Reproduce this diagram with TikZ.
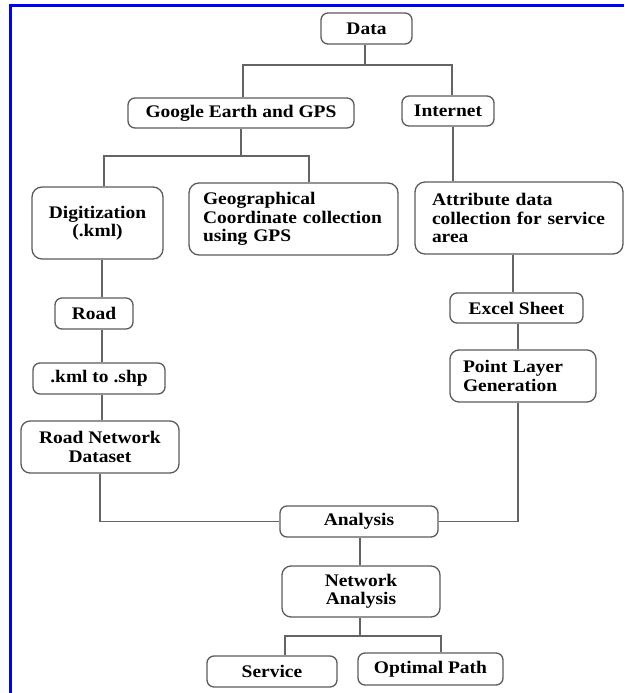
\documentclass[tikz,border=0pt]{standalone}
\usepackage{fontspec}
\setmainfont{Liberation Serif}[FakeStretch=1.1]
\definecolor{boxgray}{RGB}{90,90,90}
\definecolor{linegray}{RGB}{100,100,100}
\begin{document}
\begin{tikzpicture}[x=1pt,y=-1pt,
    box/.style={draw=boxgray, line width=1.3pt, rounded corners=7pt,
      font=\bfseries\fontsize{17.7}{18.5}\selectfont, inner sep=0pt, align=center},
    tall/.style={box, rounded corners=10pt, minimum height=72pt},
    lefttext/.style={align=left, inner xsep=#1}]
  \useasboundingbox (0,0) rectangle (624,693);
  \draw[blue, line width=3pt] (10,693) -- (10,5.5) -- (624,5.5);
  \path
    (366.5,28.5) node[box, minimum width=91pt, minimum height=31pt] (data){Data}
    (241,113) node[box, minimum width=226pt, minimum height=30pt] (gps){Google Earth and GPS}
    (448,111) node[box, minimum width=92pt, minimum height=30pt] (net){Internet}
    (97.5,223) node[tall, minimum width=131pt] (digit){Digitization\\(.kml)}
    (293.5,219) node[tall, lefttext=14pt, text width=181pt] (geo){Geographical\\Coordinate collection\\using GPS}
    (519,218) node[tall, lefttext=17pt, text width=174pt] (attr){Attribute data\\collection for service\\area}
    (94,313.5) node[box, minimum width=78pt, minimum height=31pt] (road){Road}
    (99,378.5) node[box, minimum width=132pt, minimum height=31pt] (kml){.kml to .shp}
    (100,447) node[box, rounded corners=9pt, minimum width=158pt, minimum height=52pt] (rnd){Road Network\\Dataset}
    (516.5,308) node[box, minimum width=133pt, minimum height=30pt] (excel){Excel Sheet}
    (523,376) node[box, rounded corners=9pt, lefttext=13pt, text width=120pt, minimum height=52pt] (point){Point Layer\\Generation}
    (359,521.5) node[box, minimum width=158pt, minimum height=31pt] (anal){Analysis}
    (361,591.5) node[box, rounded corners=9pt, minimum width=158pt, minimum height=51pt] (na){Network\\Analysis}
    (272,671.5) node[box, minimum width=130pt, minimum height=31pt] (serv){Service}
    (430.5,669) node[box, minimum width=145pt, minimum height=32pt] (opt){Optimal Path};
  \coordinate (j1) at (365,65);
  \coordinate (j2) at (241,156);
  \coordinate (j3) at (360,636);
  \coordinate (lx) at (102,0);
  \coordinate (rx) at (513,0);
  \coordinate (px) at (518,0);
  \begin{scope}[draw=linegray, line width=1.4pt]
    \draw (data.south -| j1) -- (j1);
    \draw ([xshift=2pt]gps.north) |- (j1) -| ([xshift=4pt]net.north);
    \draw (gps.south) -- (j2);
    \draw ([xshift=6.5pt]digit.north) |- (j2) -| ([xshift=15.5pt]geo.north);
    \draw ([xshift=5pt]net.south) -- ([xshift=5pt]net.south |- attr.north);
    \draw (digit.south -| lx) -- (road.north -| lx);
    \draw (road.south -| lx) -- (kml.north -| lx);
    \draw (kml.south -| lx) -- (rnd.north -| lx);
    \draw (rnd.south) |- (anal.west);
    \draw (attr.south -| rx) -- (excel.north -| rx);
    \draw (excel.south -| px) -- (point.north -| px);
    \draw (anal.east) -| (point.south -| px);
    \draw (anal.south -| j3) -- (na.north -| j3);
    \draw (na.south -| j3) -- (j3);
    \draw ([xshift=13pt]serv.north) |- (j3) -| ([xshift=10.5pt]opt.north);
  \end{scope}
\end{tikzpicture}
\end{document}
